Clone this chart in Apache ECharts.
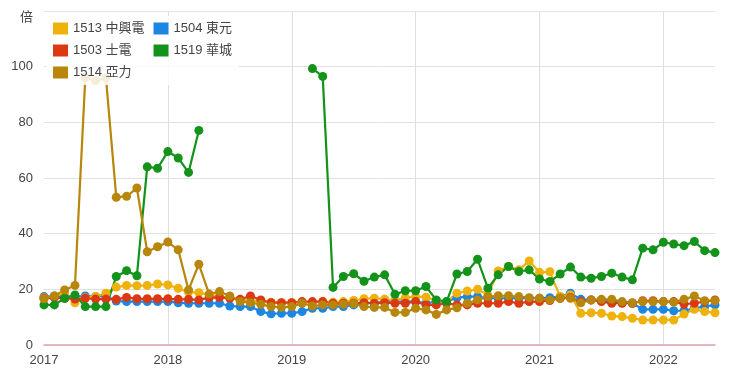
<!DOCTYPE html>
<html><head><meta charset="utf-8">
<script src="https://cdn.jsdelivr.net/npm/echarts@6/dist/echarts.min.js"></script>
<style>html,body{margin:0;padding:0;background:#fff}#c{width:740px;height:376px}</style>
</head><body><div id="c"></div>
<script>
const months = [
'2017-01','2017-02','2017-03','2017-04','2017-05','2017-06','2017-07','2017-08','2017-09','2017-10','2017-11','2017-12',
'2018-01','2018-02','2018-03','2018-04','2018-05','2018-06','2018-07','2018-08','2018-09','2018-10','2018-11','2018-12',
'2019-01','2019-02','2019-03','2019-04','2019-05','2019-06','2019-07','2019-08','2019-09','2019-10','2019-11','2019-12',
'2020-01','2020-02','2020-03','2020-04','2020-05','2020-06','2020-07','2020-08','2020-09','2020-10','2020-11','2020-12',
'2021-01','2021-02','2021-03','2021-04','2021-05','2021-06','2021-07','2021-08','2021-09','2021-10','2021-11','2021-12',
'2022-01','2022-02','2022-03','2022-04','2022-05','2022-06'];
const names = ['1513 中興電','1503 士電','1514 亞力','1504 東元','1519 華城'];
const s1513 = [17,17.5,18.5,15.2,17,17.4,18.6,20.8,21.4,21.3,21.4,21.9,
21.6,20.4,19,18.8,18,17.4,17,16.4,16,15.6,15.4,15.2,
15.2,15.4,15.4,15.6,15.4,15.6,16,16.6,16.8,16.5,16,17,
17.4,17.2,16,15.4,18.6,19.4,20,18,26.6,28.2,27,30.2,
26.1,26.3,17.4,18,11.4,11.6,11.4,10.4,10.2,9.6,9,9,
9,9,11.1,12.8,12,11.6];
const s1503 = [16.8,17,16.8,16.5,16.8,16.5,16.5,16.4,17.1,16.6,16.6,16.6,
16.6,16.4,16.4,16.2,17,17.1,16.8,16.4,17.6,16.2,15.2,15.2,
15.2,15.6,15.6,15.6,15,15,15,15.2,15,15.2,15,15,
15.6,14.4,14.4,15,14.4,14.4,15,15,15,15.6,15,15.6,
15.6,16,16.8,17.1,15.6,16.2,15.6,15,15,15,15.9,15.9,
15.6,15.6,14.7,15,15.6,16.2];
const s1514 = [16.6,17.6,19.8,21.4,96,95,96,53.1,53.4,56.4,33.5,35.3,
37,34.2,19.8,29,18.3,19.2,17.6,15.6,15.2,14.6,13.8,13.5,
13.8,15,14,14.4,14.4,14.6,14.8,13.8,13.5,13.5,11.7,11.7,
13.2,12.6,11,12.6,13.4,15,16.2,17.4,17.7,17.7,17.4,17,
16.8,16.2,16.8,16.8,15.2,16.2,16.4,16.4,15.6,15.2,15.6,15.6,
15.6,15.4,16.4,17.6,15.9,15.9];
const s1504 = [17.4,17.6,17.4,17.4,17.6,17.4,17.6,15.8,15.6,15.6,15.6,15.6,
15.6,15.2,15,15,15,15,14,13.8,13.8,12,11.2,11.4,
11.4,12,13.2,13.2,13.8,13.8,14.4,15,15,15.6,15.6,15.6,
15.6,15,15.6,15.6,17,17.4,17.4,16.8,16.8,16.8,16.8,16.8,
16.8,17,17.4,18.6,16.4,16.2,16,15.6,15.2,15,12.8,12.8,
12.8,12.3,12.3,13.2,13.8,14.4];
const s1519 = [14.4,14.4,16.8,18,13.8,13.8,13.8,24.6,26.7,24.9,64,63.5,
69.5,67.2,62,77.1,null,null,null,null,null,null,null,null,
null,null,99.3,96.5,20.7,24.6,25.6,22.9,24.4,25.2,18.2,19.5,
19.5,21,16.2,15.6,25.5,26.4,30.8,20.4,25.2,28.2,26.4,27,
23.7,22.8,25.5,28,24.4,24,24.6,25.8,24.4,23.4,34.8,34.2,
36.9,36.3,35.7,37.2,33.9,33.2];
const yTicks = [0,20,40,60,80,100,120];
const unit = '倍';

const colors = {'1513 中興電':'#efb20c','1503 士電':'#dc3912','1514 亞力':'#b8860b','1504 東元':'#1c86e3','1519 華城':'#13931a'};
const seriesData = [
  [names[3], s1504],
  [names[0], s1513],
  [names[1], s1503],
  [names[4], s1519],
  [names[2], s1514]
];
const FONT = '"Liberation Sans", Arial, "Noto Sans CJK TC", sans-serif';
const chart = echarts.init(document.getElementById('c'));
chart.setOption({
  animation: false,
  textStyle: {fontFamily: FONT},
  grid: {left: 44, right: 25, top: 11, bottom: 31, containLabel: false},
  legend: {
    data: names, orient: 'vertical', left: 46, top: 16, height: 62,
    padding: [6, 7, 6, 7], itemGap: 9, itemWidth: 15, itemHeight: 12,
    icon: 'rect', backgroundColor: 'rgba(255,255,255,0.85)',
    textStyle: {fontSize: 13, color: '#444', fontFamily: FONT}
  },
  xAxis: {
    type: 'category', data: months, boundaryGap: false,
    axisLine: {show: true, lineStyle: {color: '#dca3ad', width: 1.5}},
    axisTick: {show: false},
    axisLabel: {
      interval: (i) => i % 12 === 0, formatter: (v) => v.slice(0, 4),
      color: '#444', fontSize: 13, margin: 9, fontFamily: FONT
    },
    splitLine: {show: true, interval: (i) => i % 12 === 0 && i > 0, lineStyle: {color: '#dedede'}}
  },
  yAxis: {
    type: 'value', min: 0, max: 120, interval: 20,
    axisLine: {show: false}, axisTick: {show: false},
    axisLabel: {color: '#444', fontSize: 13, margin: 11, fontFamily: FONT,
      formatter: (v) => v === yTicks[yTicks.length - 1] ? '{u|' + unit + '}' : String(v),
      rich: {u: {fontSize: 13, color: '#444', padding: [12, 0, 0, 0], fontFamily: FONT}}},
    splitLine: {lineStyle: {color: '#e2e2e2'}}
  },
  series: seriesData.map(([n, d]) => ({
    name: n, type: 'line', data: d, connectNulls: false,
    symbol: 'circle', symbolSize: 9, showSymbol: true, showAllSymbol: true,
    itemStyle: {color: colors[n]},
    lineStyle: {width: 2.2, color: colors[n]}
  }))
});
</script></body></html>
